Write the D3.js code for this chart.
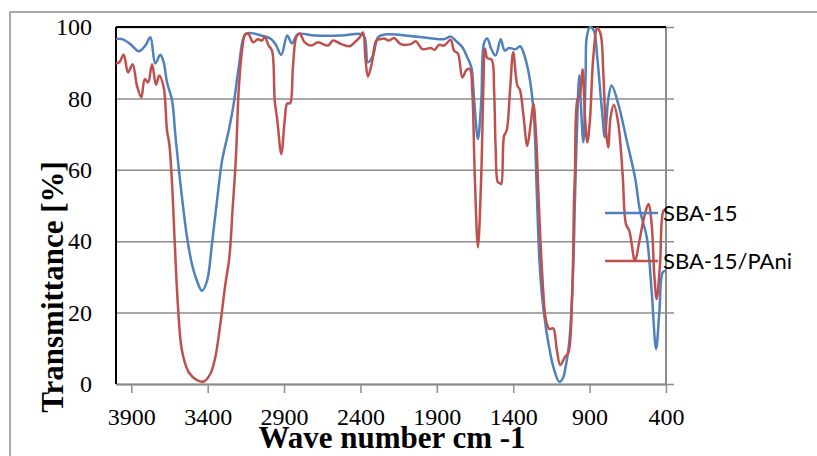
<!DOCTYPE html>
<html>
<head>
<meta charset="utf-8">
<script src="https://cdn.jsdelivr.net/npm/d3@7"></script>
<style>
  body { margin: 0; background: #fff; }
  svg { display: block; }
</style>
</head>
<body>
<div id="chart"></div>
<script>
// FTIR spectra (wave number cm-1, transmittance %)
var sbaWn = [4000, 3961, 3906, 3851, 3808, 3775, 3743, 3710, 3688, 3666, 3633, 3612, 3590, 3568, 3535, 3503, 3470, 3437, 3404, 3372, 3339, 3306, 3262, 3230, 3197, 3164, 3140,
  3049, 2983, 2951, 2918, 2879, 2848, 2809, 2700, 2525, 2395, 2372, 2351, 2318, 2285, 2241, 2028, 1853, 1809, 1777, 1733, 1701, 1674, 1657, 1631, 1609, 1591, 1570,
  1543, 1515, 1482, 1456, 1428, 1384, 1355, 1323, 1290, 1264, 1246, 1229, 1210, 1181, 1159, 1138, 1098, 1072, 1061, 1040, 1028, 1007, 996, 985, 968, 959, 941, 926,
  919, 898, 872, 850, 821, 800, 778, 756, 712, 657, 603, 570, 526, 494, 465, 443, 421, 400];
var sbaT = [96.6, 96.6, 95.2, 93.2, 94.8, 97.1, 89.8, 92.2, 90.1, 84.5, 79.4, 70, 60.7, 52.3, 41.1, 33.6, 28.9, 26.1, 28.9, 39.2, 51.3, 62.5, 71, 78.4, 88.7, 97.1, 98.3,
  97.6, 96.6, 94.8, 92.2, 97.6, 95.4, 98, 97.6, 97.6, 98, 97.1, 90.1, 92, 97.1, 97.9, 97.3, 96.6, 97.3, 96.2, 94.3, 91.5, 88.7, 80.3, 68.6, 79.4, 95.5, 96.8,
  93.8, 92, 96.6, 93.4, 94.1, 93.8, 94.6, 91.5, 85, 74.7, 54, 35, 24, 14.3, 9, 4.9, 0.6, 1.9, 3.9, 9.3, 14.3, 32.9, 51.5, 68.2, 86.4, 79.8, 67.7, 86.8,
  97.1, 100, 99, 91.5, 77.5, 69.1, 79.8, 83.6, 78.4, 68.2, 57.9, 48.5, 41.1, 26.1, 9.8, 20.5, 31.3, 31.7];

var paniWn = [4000, 3978, 3950, 3921, 3891, 3863, 3834, 3812, 3790, 3764, 3738, 3717, 3688, 3666, 3651, 3633, 3616, 3594, 3568, 3524, 3470, 3426, 3383, 3350, 3317,
  3284, 3258, 3236, 3215, 3197, 3175, 3154, 3132, 3103, 3071, 3044, 3027, 3001, 2979, 2961, 2944, 2918, 2896, 2879, 2861, 2842, 2820, 2798, 2765, 2722, 2678,
  2612, 2580, 2525, 2470, 2438, 2405, 2383, 2368, 2351, 2324, 2296, 2264, 2246, 2213, 2180, 2136, 2071, 2038, 1995, 1940, 1914, 1886, 1853, 1809, 1788, 1762,
  1733, 1705, 1683, 1668, 1652, 1631, 1609, 1596, 1585, 1570, 1541, 1525, 1515, 1500, 1487, 1478, 1460, 1443, 1421, 1400, 1373, 1356, 1334, 1308, 1286, 1268,
  1251, 1232, 1212, 1192, 1181, 1164, 1138, 1116, 1092, 1061, 1040, 1015, 1002, 996, 981, 963, 946, 930, 915, 898, 876, 850, 828, 810, 793, 778, 763, 741,
  712, 684, 662, 640, 603, 574, 543, 515, 494, 477, 461, 439, 417, 400];
var paniT = [89.8, 90.1, 92.2, 87.3, 89.6, 83.6, 80.3, 85.4, 84.5, 89.6, 83.8, 86.4, 83.1, 71, 67.2, 56, 40.1, 21.5, 9.3, 3.3, 1.1, 0.7, 2.8, 7.5, 16.8,
  28, 35.5, 49.5, 63.5, 82.2, 93.4, 98, 98, 95.7, 96.6, 96.2, 97.3, 94.8, 93.4, 79.4, 73.8, 64.4, 73.8, 78.6, 78.6, 88.7, 97.1, 98.2, 95.7, 94.8, 95.7,
  94.8, 96.2, 95.2, 94.6, 95.7, 97.1, 98.5, 91.5, 86.1, 90.1, 96.2, 96.6, 96.8, 96.2, 96.9, 95.2, 95.2, 96, 93.8, 94.1, 93.6, 95, 94.8, 96.4, 93.4, 92.6,
  85.9, 88, 88.2, 82.2, 58.8, 38.3, 58.8, 82.2, 94, 91.3, 90.8, 82, 66, 56.5, 56.3, 56, 69.5, 71, 82.2, 92.9, 83.6, 82.4, 75.6, 66.7, 72.8, 78.4,
  70, 50, 32, 19.6, 17, 15.4, 15.6, 10, 5.3, 7.6, 8.6, 24, 51.5, 58.8, 79.4, 81.2, 88.2, 74.7, 67.7, 73.8, 91.5, 99.7, 98, 86.8, 71, 66.3, 74.7, 78.2,
  72.8, 58.8, 44.8, 42.9, 34.5, 40.1, 46.7, 50.4, 44.8, 30.8, 23.8, 33.6, 48.5, 49];

var xTicks = [3900, 3400, 2900, 2400, 1900, 1400, 900, 400];
var yTicks = [0, 20, 40, 60, 80, 100];
var seriesNames = ['SBA-15', 'SBA-15/PAni'];
var seriesColors = ['#4f81bd', '#c0504d'];

var W = 817, H = 456;
var plot = {left: 116, right: 666, top: 27, bottom: 384};
var grey = '#8c8c8c';

var svg = d3.select('#chart').append('svg')
  .attr('width', W)
  .attr('height', H);

// outer chart frame (runs off the picture on the right and bottom)
svg.append('rect')
  .attr('x', 10).attr('y', 12)
  .attr('width', 830).attr('height', 470)
  .attr('fill', 'none')
  .attr('stroke', grey)
  .attr('stroke-width', 1.5);

var x = d3.scaleLinear().domain([4000, 400]).range([plot.left, plot.right]);
var y = d3.scaleLinear().domain([0, 100]).range([plot.bottom, plot.top]);

// gridlines, running a little past the right axis as tick marks
var grid = svg.append('g')
  .attr('transform', 'translate(' + plot.left + ',0)')
  .call(d3.axisLeft(y).tickValues(yTicks).tickSize(-(plot.right - plot.left + 8)).tickFormat(''));
grid.select('.domain').remove();
grid.selectAll('line').attr('stroke', grey).attr('stroke-width', 1.5);

// y labels on the left
var yLab = svg.append('g')
  .attr('transform', 'translate(' + plot.left + ',0)')
  .call(d3.axisLeft(y).tickValues(yTicks).tickSize(0).tickPadding(24));
yLab.select('.domain').remove();
yLab.selectAll('text')
  .attr('font-family', '"Liberation Serif", "Times New Roman", serif')
  .attr('font-size', 24)
  .attr('fill', '#000');

// right axis line
svg.append('line')
  .attr('x1', plot.right).attr('x2', plot.right)
  .attr('y1', plot.top).attr('y2', plot.bottom)
  .attr('stroke', grey).attr('stroke-width', 2);

// x axis
var xAxis = svg.append('g')
  .attr('transform', 'translate(0,' + plot.bottom + ')')
  .call(d3.axisBottom(x).tickValues(xTicks).tickSize(9).tickSizeOuter(0).tickPadding(15).tickFormat(d3.format('d')));
xAxis.select('.domain').attr('stroke', grey).attr('stroke-width', 2);
xAxis.selectAll('line').attr('stroke', grey).attr('stroke-width', 1.5);
xAxis.selectAll('text')
  .attr('font-family', '"Liberation Serif", "Times New Roman", serif')
  .attr('font-size', 24)
  .attr('fill', '#000');

// black plot border on left and top
svg.append('line')
  .attr('x1', plot.left).attr('x2', plot.left)
  .attr('y1', plot.top).attr('y2', plot.bottom)
  .attr('stroke', '#000').attr('stroke-width', 2);
svg.append('line')
  .attr('x1', plot.left).attr('x2', plot.right)
  .attr('y1', plot.top).attr('y2', plot.top)
  .attr('stroke', '#000').attr('stroke-width', 2);

// spectra
var line = d3.line()
  .x(d => x(d[0]))
  .y(d => y(d[1]))
  .curve(d3.curveCatmullRom.alpha(0.5));

var series = [
  d3.zip(sbaWn, sbaT),
  d3.zip(paniWn, paniT)
];

svg.append('g')
  .selectAll('path')
  .data(series)
  .enter()
  .append('path')
  .attr('d', line)
  .attr('fill', 'none')
  .attr('stroke', (d, i) => seriesColors[i])
  .attr('stroke-width', 2.5)
  .attr('stroke-linejoin', 'round');

// legend
var legY = [213, 261];
var leg = svg.append('g')
  .selectAll('g')
  .data(seriesNames)
  .enter()
  .append('g')
  .attr('transform', (d, i) => 'translate(605,' + legY[i] + ')');
leg.append('line')
  .attr('x1', 0).attr('x2', 53)
  .attr('stroke', (d, i) => seriesColors[i])
  .attr('stroke-width', 2.5);
leg.append('text')
  .attr('x', 58)
  .attr('dy', '0.35em')
  .attr('font-family', 'Lato, "Open Sans", sans-serif')
  .attr('font-size', 22)
  .attr('fill', '#000')
  .text(d => d);

// axis titles
svg.append('text')
  .attr('x', 392)
  .attr('y', 448)
  .attr('text-anchor', 'middle')
  .attr('font-family', '"Liberation Serif", "Times New Roman", serif')
  .attr('font-weight', 'bold')
  .attr('font-size', 31)
  .text('Wave number cm -1');

svg.append('text')
  .attr('transform', 'translate(63,287) rotate(-90)')
  .attr('text-anchor', 'middle')
  .attr('font-family', '"Liberation Serif", "Times New Roman", serif')
  .attr('font-weight', 'bold')
  .attr('font-size', 31)
  .text('Transmittance [%]');
</script>
</body>
</html>
